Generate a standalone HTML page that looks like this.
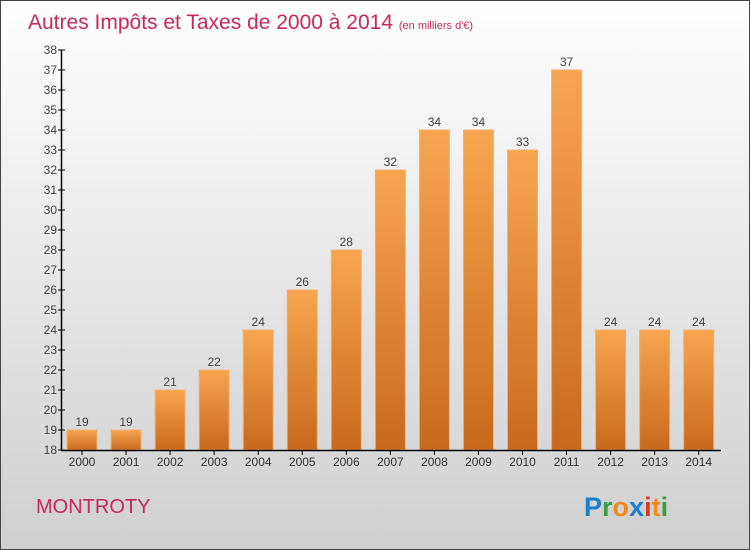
<!DOCTYPE html>
<html><head><meta charset="utf-8"><style>
body{margin:0;}
#wrap{position:relative;width:750px;height:550px;overflow:hidden;}
svg{position:absolute;left:0;top:0;}
</style></head><body>
<div id="wrap">
<svg id="chart" width="750" height="550" xmlns="http://www.w3.org/2000/svg">
<defs>
<linearGradient id="bg" x1="0" y1="0" x2="0" y2="1"><stop offset="0" stop-color="#ffffff"/><stop offset="1" stop-color="#cfcfcf"/></linearGradient>
<linearGradient id="bar" x1="0" y1="0" x2="0" y2="1"><stop offset="0" stop-color="#f7a550"/><stop offset="1" stop-color="#c8691c"/></linearGradient>
</defs>
<rect x="0.5" y="0.5" width="749" height="549" fill="url(#bg)" stroke="#444"/>
<text x="28" y="29" font-family="Liberation Sans, sans-serif" font-size="21" fill="#c8285a">Autres Impôts et Taxes de 2000 à 2014 <tspan font-size="11">(en milliers d'€)</tspan></text>
<text x="36" y="513" font-family="Liberation Sans, sans-serif" font-size="20" fill="#c8285a">MONTROTY</text>
<g font-family="Liberation Sans, sans-serif" font-size="27" font-weight="bold">
<text x="584" y="516"><tspan fill="#1a7fd0">P</tspan><tspan fill="#3aa040">r</tspan><tspan fill="#f08a1a">o</tspan><tspan fill="#1a7fd0">x</tspan><tspan fill="#e03a20">i</tspan><tspan fill="#f08a1a">t</tspan><tspan fill="#3aa040">i</tspan></text>
</g>
<g id="bars"></g>
<g id="axes"></g>
</svg>
</div>
<script>
const years = ["2000","2001","2002","2003","2004","2005","2006","2007","2008","2009","2010","2011","2012","2013","2014"];
const values = [19,19,21,22,24,26,28,32,34,34,33,37,24,24,24];
const yTicks = [18,19,20,21,22,23,24,25,26,27,28,29,30,31,32,33,34,35,36,37,38];
const NS="http://www.w3.org/2000/svg";
const yMin=18,yMax=38,plotTop=50,plotBottom=450;
function yScale(v){return plotBottom-(v-yMin)/(yMax-yMin)*(plotBottom-plotTop);}
function xCenter(i){return 82+i*44.05;}
function mk(tag,attrs,parent){const e=document.createElementNS(NS,tag);for(const k in attrs)e.setAttribute(k,attrs[k]);parent.appendChild(e);return e;}
const bars=document.getElementById('bars'),axes=document.getElementById('axes');
values.forEach((v,i)=>{
 const y=yScale(v);
 const r=mk('rect',{x:xCenter(i)-15,y:y,width:30,height:plotBottom-y,fill:'url(#bar)',stroke:'#f5b070','stroke-width':1},bars);
 
 
 const t=mk('text',{x:xCenter(i),y:y-4,'text-anchor':'middle','font-family':'Liberation Sans, sans-serif','font-size':12,fill:'#444'},bars);
 t.textContent=v;
 
 
 const xl=mk('text',{x:xCenter(i),y:466,'text-anchor':'middle','font-family':'Liberation Sans, sans-serif','font-size':12,fill:'#333'},axes);
 xl.textContent=years[i];
 
 
 mk('line',{x1:xCenter(i),x2:xCenter(i),y1:450,y2:455,stroke:'#000'},axes);
});
const ya=mk('line',{x1:61.5,x2:61.5,y1:50,y2:450,stroke:'#000','stroke-width':1.5},axes);


const xa=mk('line',{x1:61,x2:721,y1:450.5,y2:450.5,stroke:'#000','stroke-width':1.5},axes);


yTicks.forEach(v=>{
 const y=yScale(v);
 mk('line',{x1:58,x2:65,y1:y,y2:y,stroke:'#000'},axes);
 const t=mk('text',{x:57,y:y+4,'text-anchor':'end','font-family':'Liberation Sans, sans-serif','font-size':12,fill:'#444'},axes);
 t.textContent=v;
 
 
});
</script>
</body></html>
